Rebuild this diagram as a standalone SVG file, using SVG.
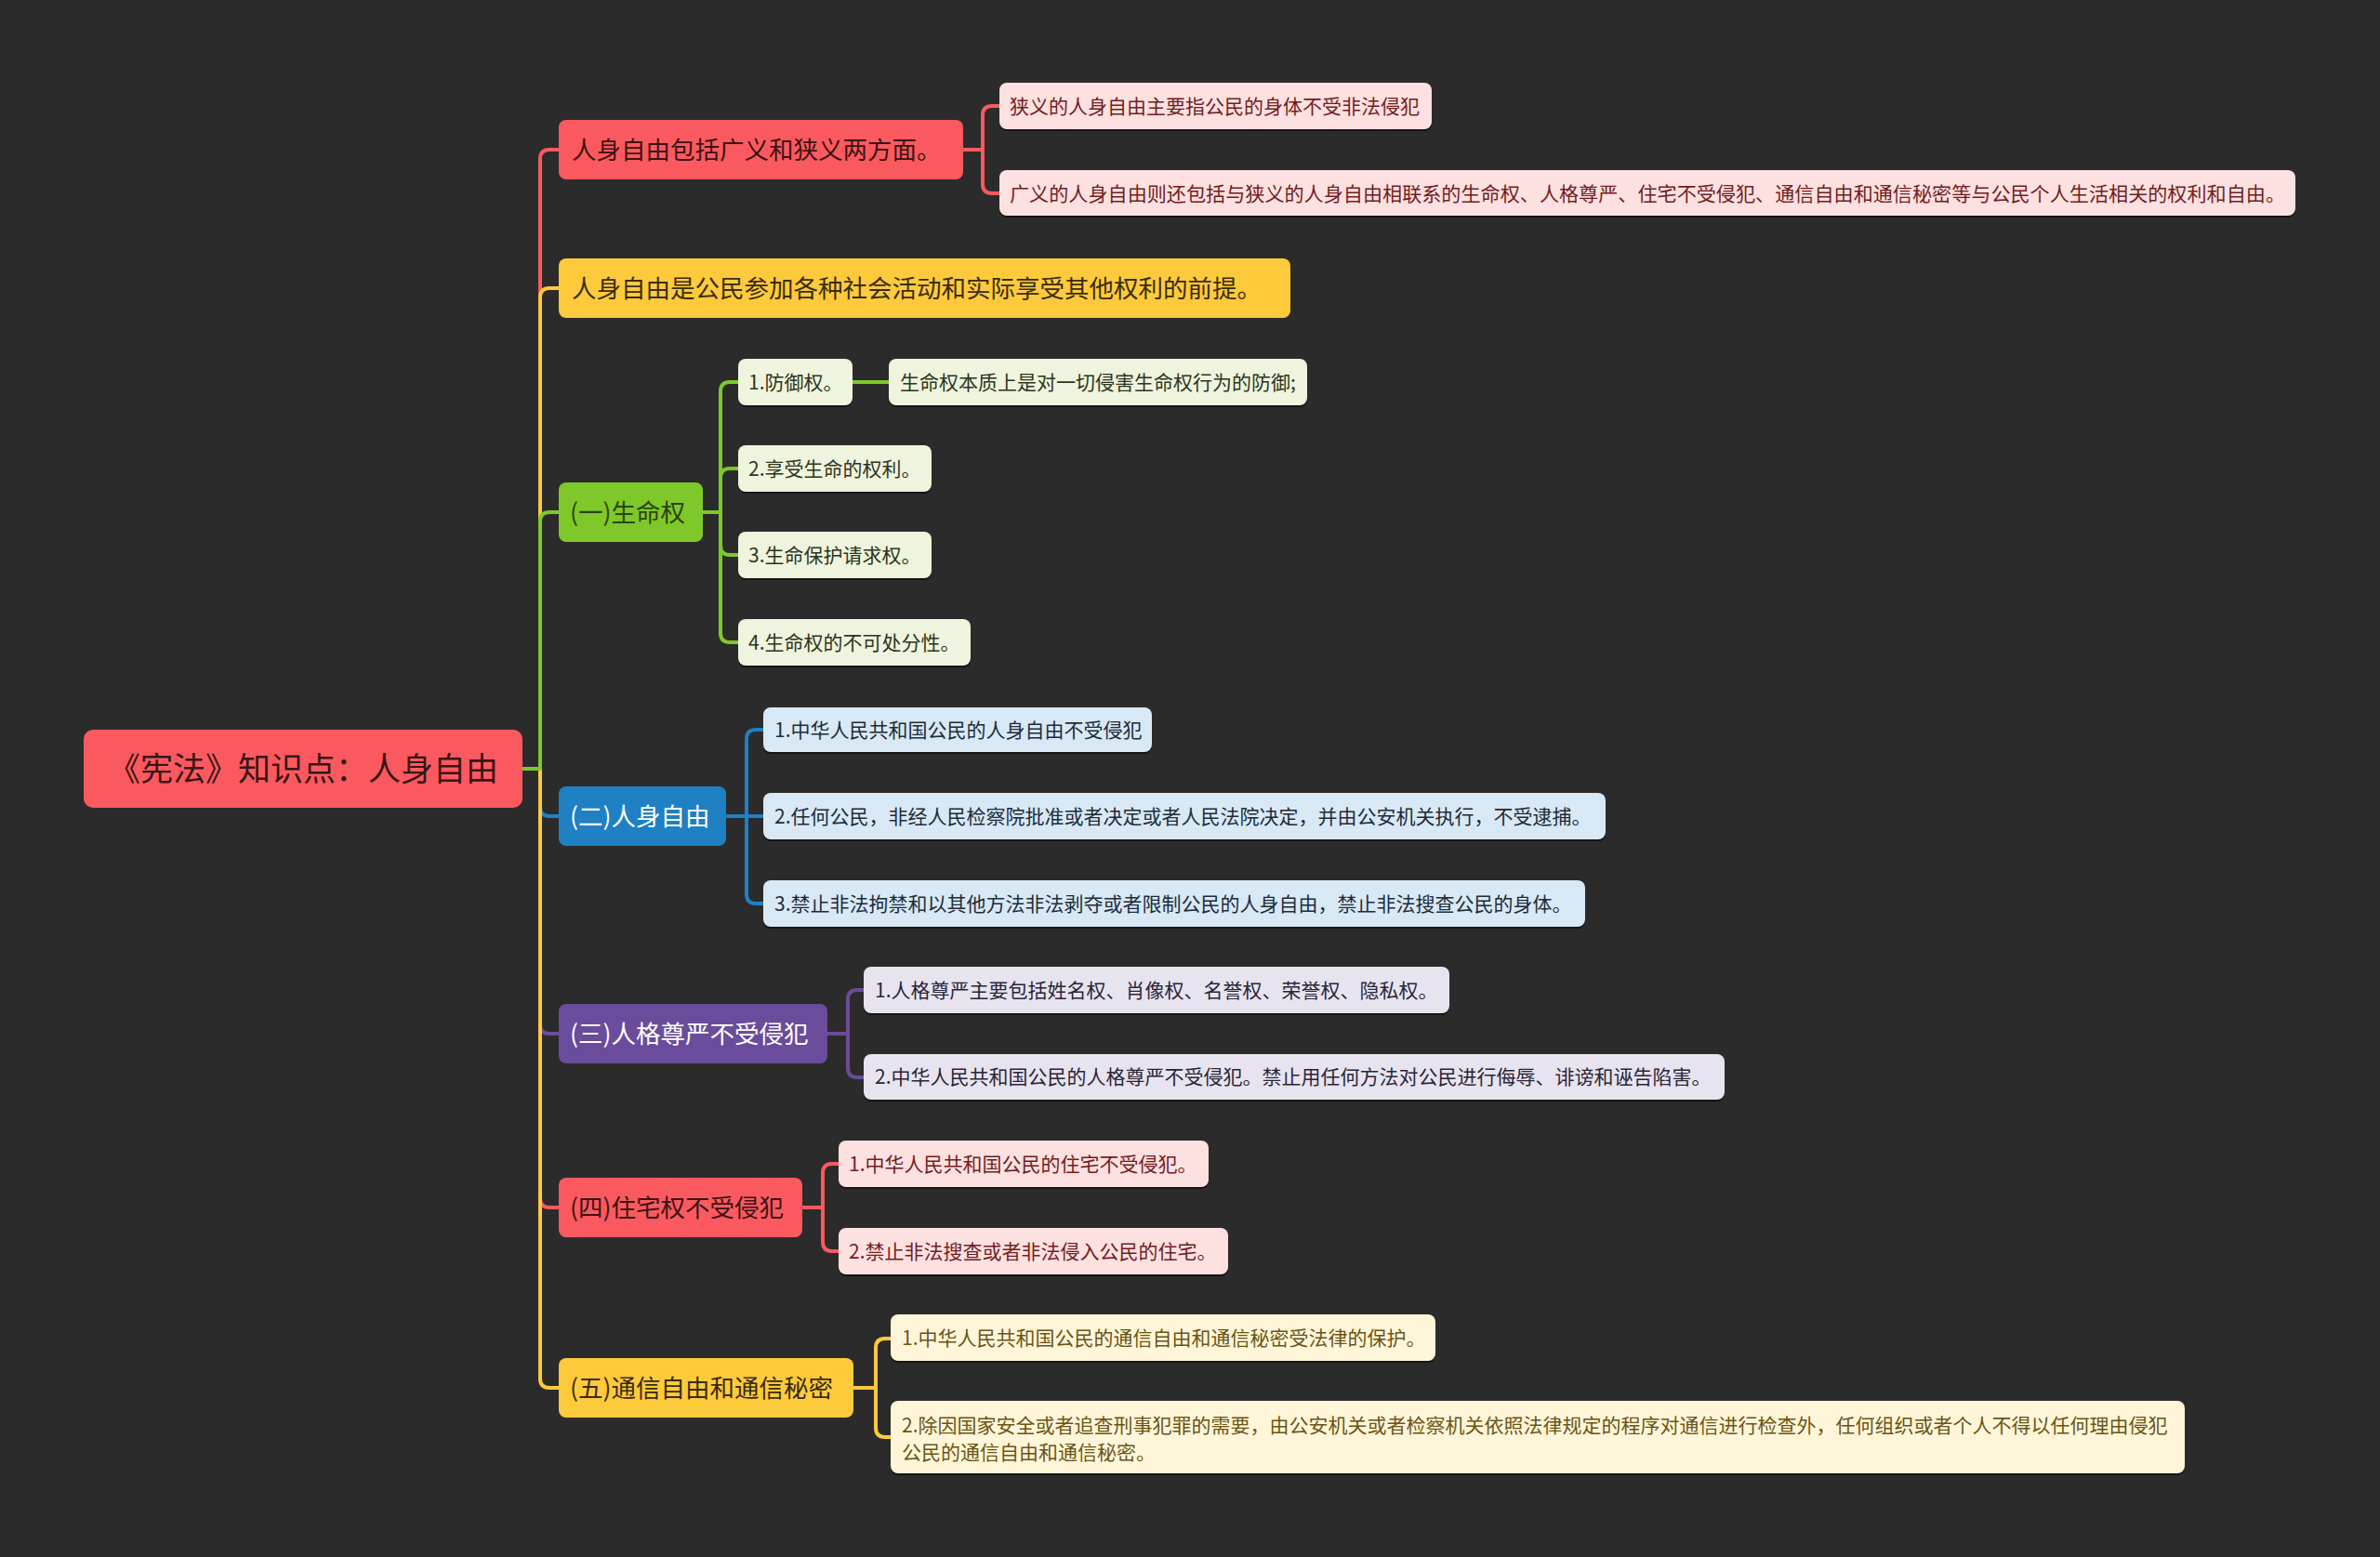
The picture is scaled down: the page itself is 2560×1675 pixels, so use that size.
<svg xmlns="http://www.w3.org/2000/svg" width="2560" height="1675" viewBox="0 0 2560 1675">
<style>
text{font-family:"Noto Sans CJK SC","Noto Sans",sans-serif;}
.root{font-size:35px;fill:#3a1416;}
.l1{font-size:26.5px;}
.l2{font-size:21px;}
.sh{fill:#151515;}
.red{fill:#fa5a5f;}
.yel{fill:#fdca3c;}
.grn{fill:#7ec82a;}
.blu{fill:#1f80c4;}
.pur{fill:#6a4c9c;}
.lred{fill:#fde1e1;}
.lgrn{fill:#eef4dd;}
.lblu{fill:#d8e9f5;}
.lpur{fill:#e7e4ef;}
.lyel{fill:#fff6d9;}
.c{fill:none;stroke-width:4;stroke-linecap:round;stroke-linejoin:round;}
.sred{stroke:#fa5a5f;}
.syel{stroke:#fdca3c;}
.sgrn{stroke:#7ec82a;}
.sblu{stroke:#1f80c4;}
.spur{stroke:#6a4c9c;}
</style>
<rect x="0" y="0" width="2560" height="1675" fill="#2b2b2b"/>

<g id="connectors">
  <!-- root to level 1 -->
  <path class="c sred" d="M562,827 H581 V171 Q581,161 591,161 H601"/>
  <path class="c syel" d="M562,827 H581 V320 Q581,310 591,310 H601"/>
  <path class="c sblu" d="M562,827 H581 V868 Q581,878 591,878 H601"/>
  <path class="c spur" d="M562,827 H581 V1102 Q581,1112 591,1112 H601"/>
  <path class="c sred" d="M562,827 H581 V1289 Q581,1299 591,1299 H601"/>
  <path class="c syel" d="M562,827 H581 V1483 Q581,1493 591,1493 H601"/>
  <path class="c sgrn" d="M562,827 H581 V561 Q581,551 591,551 H601"/>
  <!-- A children -->
  <path class="c sred" d="M1036,161 H1057 V124 Q1057,114 1067,114 H1075"/>
  <path class="c sred" d="M1036,161 H1057 V198 Q1057,208 1067,208 H1075"/>
  <!-- C children -->
  <path class="c sgrn" d="M756,551 H775 V421 Q775,411 785,411 H794"/>
  <path class="c sgrn" d="M756,551 H775 V514 Q775,504 785,504 H794"/>
  <path class="c sgrn" d="M756,551 H775 V587 Q775,597 785,597 H794"/>
  <path class="c sgrn" d="M756,551 H775 V681 Q775,691 785,691 H794"/>
  <path class="c sgrn" d="M917,411 H956"/>
  <!-- D children -->
  <path class="c sblu" d="M781,878 H803 V795 Q803,785 813,785 H821"/>
  <path class="c sblu" d="M781,878 H821"/>
  <path class="c sblu" d="M781,878 H803 V962 Q803,972 813,972 H821"/>
  <!-- E children -->
  <path class="c spur" d="M890,1112 H912 V1075 Q912,1065 922,1065 H929"/>
  <path class="c spur" d="M890,1112 H912 V1149 Q912,1159 922,1159 H929"/>
  <!-- F children -->
  <path class="c sred" d="M863,1299 H885 V1262 Q885,1252 895,1252 H902"/>
  <path class="c sred" d="M863,1299 H885 V1336 Q885,1346 895,1346 H902"/>
  <!-- G children -->
  <path class="c syel" d="M918,1493 H942 V1450 Q942,1440 952,1440 H958"/>
  <path class="c syel" d="M918,1493 H942 V1536 Q942,1546 952,1546 H958"/>
</g>

<g id="root">
  <rect class="red" x="90" y="785" width="472" height="84" rx="10"/>
  <text class="root" x="326" y="839.5" text-anchor="middle">《宪法》知识点：人身自由</text>
</g>

<g id="n-a">
  <rect class="red" x="601" y="129" width="435" height="64" rx="8"/>
  <text class="l1" x="615" y="170.5" fill="#3d1214">人身自由包括广义和狭义两方面。</text>
</g>
<g id="n-a1">
  <rect class="sh" x="1075" y="91" width="465" height="50" rx="8"/>
  <rect class="lred" x="1075" y="89" width="465" height="50" rx="8"/>
  <text class="l2" x="1086" y="121.5" fill="#731c20">狭义的人身自由主要指公民的身体不受非法侵犯</text>
</g>
<g id="n-a2">
  <rect class="sh" x="1075" y="185" width="1394" height="49" rx="8"/>
  <rect class="lred" x="1075" y="183" width="1394" height="49" rx="8"/>
  <text class="l2" x="1086" y="215.5" fill="#731c20" textLength="1372" lengthAdjust="spacingAndGlyphs">广义的人身自由则还包括与狭义的人身自由相联系的生命权、人格尊严、住宅不受侵犯、通信自由和通信秘密等与公民个人生活相关的权利和自由。</text>
</g>

<g id="n-b">
  <rect class="yel" x="601" y="278" width="787" height="64" rx="8"/>
  <text class="l1" x="615" y="319.5" fill="#3a2c08">人身自由是公民参加各种社会活动和实际享受其他权利的前提。</text>
</g>

<g id="n-c">
  <rect class="grn" x="601" y="519" width="155" height="64" rx="8"/>
  <text class="l1" x="613" y="560.5" fill="#2c420c">(一)生命权</text>
</g>
<g id="n-c1">
  <rect class="sh" x="794" y="388" width="123" height="50" rx="8"/>
  <rect class="lgrn" x="794" y="386" width="123" height="50" rx="8"/>
  <text class="l2" x="805" y="418.5" fill="#2c3520">1.防御权。</text>
</g>
<g id="n-c1a">
  <rect class="sh" x="956" y="388" width="450" height="50" rx="8"/>
  <rect class="lgrn" x="956" y="386" width="450" height="50" rx="8"/>
  <text class="l2" x="968" y="418.5" fill="#2c3520">生命权本质上是对一切侵害生命权行为的防御;</text>
</g>
<g id="n-c2">
  <rect class="sh" x="794" y="481" width="208" height="50" rx="8"/>
  <rect class="lgrn" x="794" y="479" width="208" height="50" rx="8"/>
  <text class="l2" x="805" y="511.5" fill="#2c3520">2.享受生命的权利。</text>
</g>
<g id="n-c3">
  <rect class="sh" x="794" y="574" width="208" height="50" rx="8"/>
  <rect class="lgrn" x="794" y="572" width="208" height="50" rx="8"/>
  <text class="l2" x="805" y="604.5" fill="#2c3520">3.生命保护请求权。</text>
</g>
<g id="n-c4">
  <rect class="sh" x="794" y="668" width="250" height="50" rx="8"/>
  <rect class="lgrn" x="794" y="666" width="250" height="50" rx="8"/>
  <text class="l2" x="805" y="698.5" fill="#2c3520">4.生命权的不可处分性。</text>
</g>

<g id="n-d">
  <rect class="blu" x="601" y="846" width="180" height="64" rx="8"/>
  <text class="l1" x="613" y="887.5" fill="#ffffff">(二)人身自由</text>
</g>
<g id="n-d1">
  <rect class="sh" x="821" y="763" width="418" height="48" rx="8"/>
  <rect class="lblu" x="821" y="761" width="418" height="48" rx="8"/>
  <text class="l2" x="833" y="792.5" fill="#1d2b3a">1.中华人民共和国公民的人身自由不受侵犯</text>
</g>
<g id="n-d2">
  <rect class="sh" x="821" y="855" width="906" height="50" rx="8"/>
  <rect class="lblu" x="821" y="853" width="906" height="50" rx="8"/>
  <text class="l2" x="833" y="885.5" fill="#1d2b3a">2.任何公民，非经人民检察院批准或者决定或者人民法院决定，并由公安机关执行，不受逮捕。</text>
</g>
<g id="n-d3">
  <rect class="sh" x="821" y="949" width="884" height="50" rx="8"/>
  <rect class="lblu" x="821" y="947" width="884" height="50" rx="8"/>
  <text class="l2" x="833" y="979.5" fill="#1d2b3a">3.禁止非法拘禁和以其他方法非法剥夺或者限制公民的人身自由，禁止非法搜查公民的身体。</text>
</g>

<g id="n-e">
  <rect class="pur" x="601" y="1080" width="289" height="64" rx="8"/>
  <text class="l1" x="613" y="1121.5" fill="#ffffff">(三)人格尊严不受侵犯</text>
</g>
<g id="n-e1">
  <rect class="sh" x="929" y="1042" width="630" height="50" rx="8"/>
  <rect class="lpur" x="929" y="1040" width="630" height="50" rx="8"/>
  <text class="l2" x="941" y="1072.5" fill="#2a2438">1.人格尊严主要包括姓名权、肖像权、名誉权、荣誉权、隐私权。</text>
</g>
<g id="n-e2">
  <rect class="sh" x="929" y="1136" width="926" height="49" rx="8"/>
  <rect class="lpur" x="929" y="1134" width="926" height="49" rx="8"/>
  <text class="l2" x="941" y="1166" fill="#2a2438">2.中华人民共和国公民的人格尊严不受侵犯。禁止用任何方法对公民进行侮辱、诽谤和诬告陷害。</text>
</g>

<g id="n-f">
  <rect class="red" x="601" y="1267" width="262" height="64" rx="8"/>
  <text class="l1" x="613" y="1308.5" fill="#3d1214">(四)住宅权不受侵犯</text>
</g>
<g id="n-f1">
  <rect class="sh" x="902" y="1229" width="398" height="50" rx="8"/>
  <rect class="lred" x="902" y="1227" width="398" height="50" rx="8"/>
  <text class="l2" x="913" y="1259.5" fill="#731c20">1.中华人民共和国公民的住宅不受侵犯。</text>
</g>
<g id="n-f2">
  <rect class="sh" x="902" y="1323" width="419" height="50" rx="8"/>
  <rect class="lred" x="902" y="1321" width="419" height="50" rx="8"/>
  <text class="l2" x="913" y="1353.5" fill="#731c20">2.禁止非法搜查或者非法侵入公民的住宅。</text>
</g>

<g id="n-g">
  <rect class="yel" x="601" y="1461" width="317" height="64" rx="8"/>
  <text class="l1" x="613" y="1502.5" fill="#3a2c08">(五)通信自由和通信秘密</text>
</g>
<g id="n-g1">
  <rect class="sh" x="958" y="1416" width="586" height="50" rx="8"/>
  <rect class="lyel" x="958" y="1414" width="586" height="50" rx="8"/>
  <text class="l2" x="970" y="1446.5" fill="#6b5414">1.中华人民共和国公民的通信自由和通信秘密受法律的保护。</text>
</g>
<g id="n-g2">
  <rect class="sh" x="958" y="1509" width="1392" height="78" rx="8"/>
  <rect class="lyel" x="958" y="1507" width="1392" height="78" rx="8"/>
  <text class="l2" fill="#6b5414"><tspan x="970" y="1540.5">2.除因国家安全或者追查刑事犯罪的需要，由公安机关或者检察机关依照法律规定的程序对通信进行检查外，任何组织或者个人不得以任何理由侵犯</tspan><tspan x="970" y="1569.5">公民的通信自由和通信秘密。</tspan></text>
</g>
</svg>
